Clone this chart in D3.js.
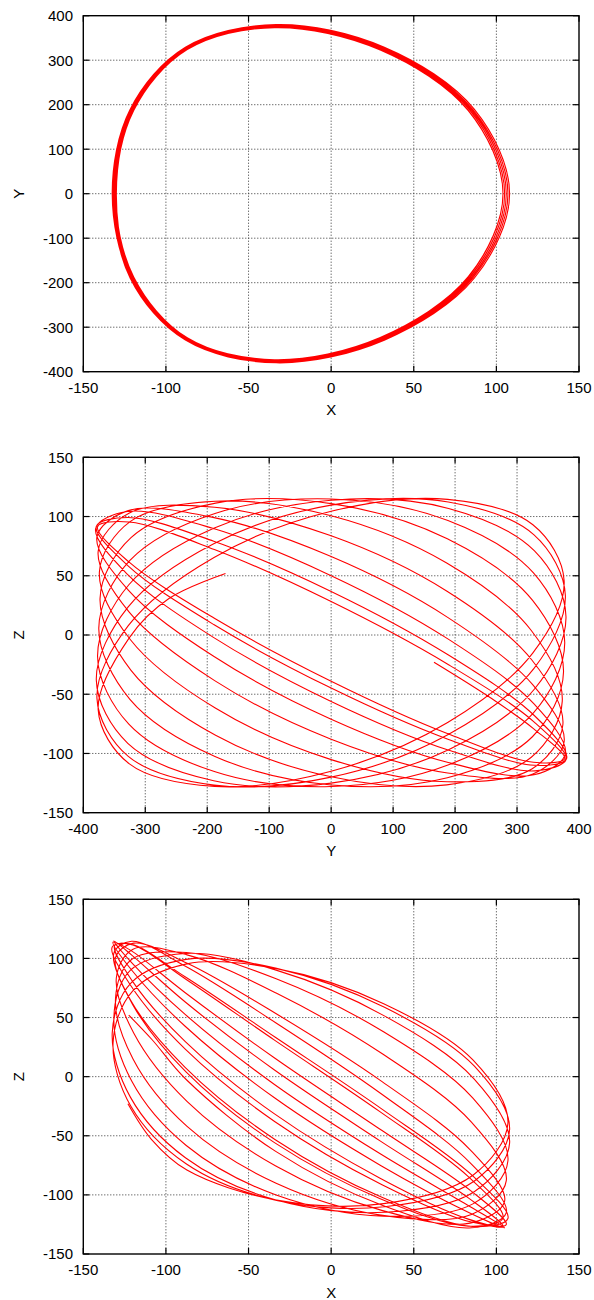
<!DOCTYPE html>
<html>
<head>
<meta charset="utf-8">
<script src="https://cdn.jsdelivr.net/npm/d3@7"></script>
<style>
  body { margin: 0; background: #fff; }
  svg { display: block; font-family: "Liberation Sans", Arial, Helvetica, sans-serif; }
</style>
</head>
<body>
<svg id="chart" width="594" height="1300"></svg>
<script>
// Trajectory samples, one row per revolution (same units as the axes).
const posX = [
  -123, -108.8, -87.3, -33, 31.8, 85.8, 107, 85.8, 31.8, -33, -87.3, -120.3,
  -132, -121.2, -87.8, -33, 32.3, 86.7, 108, 86.7, 32.3, -33, -87.8, -121.2,
  -132.5, -121.6, -88.2, -33.3, 32.2, 86.6, 108, 86.6, 32.2, -33.3, -88.2, -121.6,
  -131.5, -120.8, -87.7, -33.3, 31.7, 85.8, 107, 85.8, 31.7, -33.3, -87.7, -120.8,
  -130.5, -119.9, -87.2, -33.3, 31.2, 84.9, 106, 84.9, 31.2, -33.3, -87.2, -119.9,
  -130, -119.5, -87.1, -33.5, 30.6, 84.0, 105, 84.0, 30.6, -33.5, -87.1, -119.5,
  -130.5, -120.0, -87.7, -34.3, 29.7, 83.0, 104, 83.0, 29.7, -34.3, -87.7, -120.0,
  -131, -120.5, -88.1, -34.5, 29.6, 83.0, 104, 83.0, 29.6, -34.5, -88.1, -120.5,
  -131.5, -120.9, -88.2, -34.3, 30.2, 83.9, 105, 83.9, 30.2, -34.3, -88.2, -120.9,
  -132, -121.3, -88.3, -34, 30.8, 84.8, 106, 84.8, 30.8, -34, -88.3, -121.3,
  -132.5, -121.7, -88.4, -33.8, 31.4, 85.7, 107, 85.7, 31.4, -33.8, -88.4, -121.7,
  -131.5, -120.8, -87.9, -33.8, 30.9, 84.9, 106, 84.9, 30.9, -33.8, -87.9, -108.2, -122.5
];

const posY = [
  166, 257.1, 326.5, 377, 326.5, 188.5, 0, -188.5, -326.5, -377, -326.5, -188.5,
  0, 189.5, 328.2, 379, 328.2, 189.5, 0, -189.5, -328.2, -379, -328.2, -189.5,
  0, 190, 329.1, 380, 329.1, 190, 0, -190, -329.1, -380, -329.1, -190,
  0, 189, 327.4, 378, 327.4, 189, 0, -189, -327.4, -378, -327.4, -189,
  0, 188, 325.6, 376, 325.6, 188, 0, -188, -325.6, -376, -325.6, -188,
  0, 187, 323.9, 374, 323.9, 187, 0, -187, -323.9, -374, -323.9, -187,
  0, 186.5, 323, 373, 323, 186.5, 0, -186.5, -323, -373, -323, -186.5,
  0, 187.5, 324.8, 375, 324.8, 187.5, 0, -187.5, -324.8, -375, -324.8, -187.5,
  0, 188.5, 326.5, 377, 326.5, 188.5, 0, -188.5, -326.5, -377, -326.5, -188.5,
  0, 189.5, 328.2, 379, 328.2, 189.5, 0, -189.5, -328.2, -379, -328.2, -189.5,
  0, 189, 327.4, 378, 327.4, 189, 0, -189, -327.4, -378, -327.4, -189,
  0, 188, 325.6, 376, 325.6, 188, 0, -188, -325.6, -376, -325.6, -261.2, -170.5
];

const posZ = [
  -23, -53, -79, -104.4, -107.4, -83.4, -39.0, 14.1, 61.7, 91.4, 95.4, 72.2,
  28.2, -25.1, -73.7, -104.7, -110.0, -88.2, -44.8, 8.8, 58.6, 91.6, 99.2, 79.2,
  36.8, -17.1, -68.6, -104.3, -114.7, -97.3, -56.1, -2.0, 51.4, 90.1, 104.2, 89.9,
  50.1, -3.5, -58.2, -100.1, -118.0, -107.6, -71.1, -18.2, 37.9, 82.8, 105.0, 99.1,
  66.2, 14.9, -42.1, -90.1, -117.3, -116.5, -88.0, -38.5, 19.1, 70.7, 103.0, 107.8,
  83.7, 36.9, -21.1, -75.6, -113.1, -123.9, -105.2, -61.7, -4.0, 53.4, 95.9, 112.9,
  100.6, 60.7, 3.8, -55.8, -103.2, -126.5, -119.7, -84.6, -29.8, 30.9, 82.2, 111.3,
  110.9, 81.2, 29.4, -31.3, -85.9, -120.5, -126.6, -102.5, -54.3, 5.8, 62.9, 102.6,
  114.8, 96.6, 52.4, -6.6, -65.7, -109.8, -127.9, -115.3, -75.3, -17.9, 42.4, 90.4,
  113.8, 106.8, 71.0, 15.5, -45.6, -96.8, -125.0, -123.0, -91.4, -38.1, 23.3, 77.1,
  109.6, 112.3, 84.5, 33.3, -28.1, -84.0, -120.0, -126.7, -102.4, -53.3, 7.9, 65.5,
  104.4, 114.5, 93.1, 45.8, -15.1, -73.9, -115.0, -127.8, -108.8, -63.0, -2.2, 31.0, 52
];

// Tick values for each axis range
const ticksX = [-150, -100, -50, 0, 50, 100, 150];
const ticksY = [-400, -300, -200, -100, 0, 100, 200, 300, 400];
const ticksZ = [-150, -100, -50, 0, 50, 100, 150];

const svg = d3.select("#chart");
const left = 83.3, right = 579;

const panels = [
  { top: 15.7,  bottom: 371.7, h: posX, v: posY, hDom: [-150, 150], vDom: [-400, 400], hTicks: ticksX, vTicks: ticksY, hTitle: "X", vTitle: "Y" },
  { top: 457.3, bottom: 812.7, h: posY, v: posZ, hDom: [-400, 400], vDom: [-150, 150], hTicks: ticksY, vTicks: ticksZ, hTitle: "Y", vTitle: "Z" },
  { top: 899.3, bottom: 1254,  h: posX, v: posZ, hDom: [-150, 150], vDom: [-150, 150], hTicks: ticksX, vTicks: ticksZ, hTitle: "X", vTitle: "Z" }
];

panels.forEach(p => {
  const top = p.top, bottom = p.bottom;
  const sx = d3.scaleLinear().domain(p.hDom).range([left, right]);
  const sy = d3.scaleLinear().domain(p.vDom).range([bottom, top]);
  const g = svg.append("g");

  // dotted grid
  const grid = g.append("g")
    .attr("stroke", "#000").attr("stroke-width", 1)
    .attr("stroke-dasharray", "1,2").attr("opacity", 0.8);
  p.hTicks.slice(1, -1).forEach(t => {
    grid.append("line").attr("x1", sx(t)).attr("x2", sx(t))
      .attr("y1", top).attr("y2", bottom);
  });
  p.vTicks.slice(1, -1).forEach(t => {
    grid.append("line").attr("x1", left).attr("x2", right)
      .attr("y1", sy(t)).attr("y2", sy(t));
  });

  // orbit projection
  const pts = p.h.map((d, i) => [d, p.v[i]]);
  const line = d3.line().x(d => sx(d[0])).y(d => sy(d[1]))
    .curve(d3.curveCatmullRom.alpha(0.5));
  g.append("path").datum(pts)
    .attr("d", line)
    .attr("fill", "none")
    .attr("stroke", "#ff0000")
    .attr("stroke-width", 1.1)
    .attr("stroke-linejoin", "round");

  // frame
  g.append("rect").attr("x", left).attr("y", top)
    .attr("width", right - left).attr("height", bottom - top)
    .attr("fill", "none").attr("stroke", "#000").attr("stroke-width", 1.4);

  // mirrored inward ticks
  const tk = 6;
  const ticks = g.append("g").attr("stroke", "#000").attr("stroke-width", 1.2);
  p.hTicks.forEach(t => {
    ticks.append("line").attr("x1", sx(t)).attr("x2", sx(t)).attr("y1", bottom).attr("y2", bottom - tk);
    ticks.append("line").attr("x1", sx(t)).attr("x2", sx(t)).attr("y1", top).attr("y2", top + tk);
  });
  p.vTicks.forEach(t => {
    ticks.append("line").attr("x1", left).attr("x2", left + tk).attr("y1", sy(t)).attr("y2", sy(t));
    ticks.append("line").attr("x1", right).attr("x2", right - tk).attr("y1", sy(t)).attr("y2", sy(t));
  });

  // tick labels
  const lab = g.append("g").attr("font-size", 15).attr("fill", "#000");
  p.hTicks.forEach(t => {
    lab.append("text").attr("x", sx(t)).attr("y", bottom + 21)
      .attr("text-anchor", "middle").text(t);
  });
  p.vTicks.forEach(t => {
    lab.append("text").attr("x", 73).attr("y", sy(t)).attr("dy", "0.36em")
      .attr("text-anchor", "end").text(t);
  });

  // axis titles
  lab.append("text").attr("x", (left + right) / 2).attr("y", bottom + 43.5)
    .attr("text-anchor", "middle").text(p.hTitle);
  lab.append("text")
    .attr("transform", `translate(24,${(top + bottom) / 2}) rotate(-90)`)
    .attr("text-anchor", "middle").text(p.vTitle);
});
</script>
</body>
</html>
